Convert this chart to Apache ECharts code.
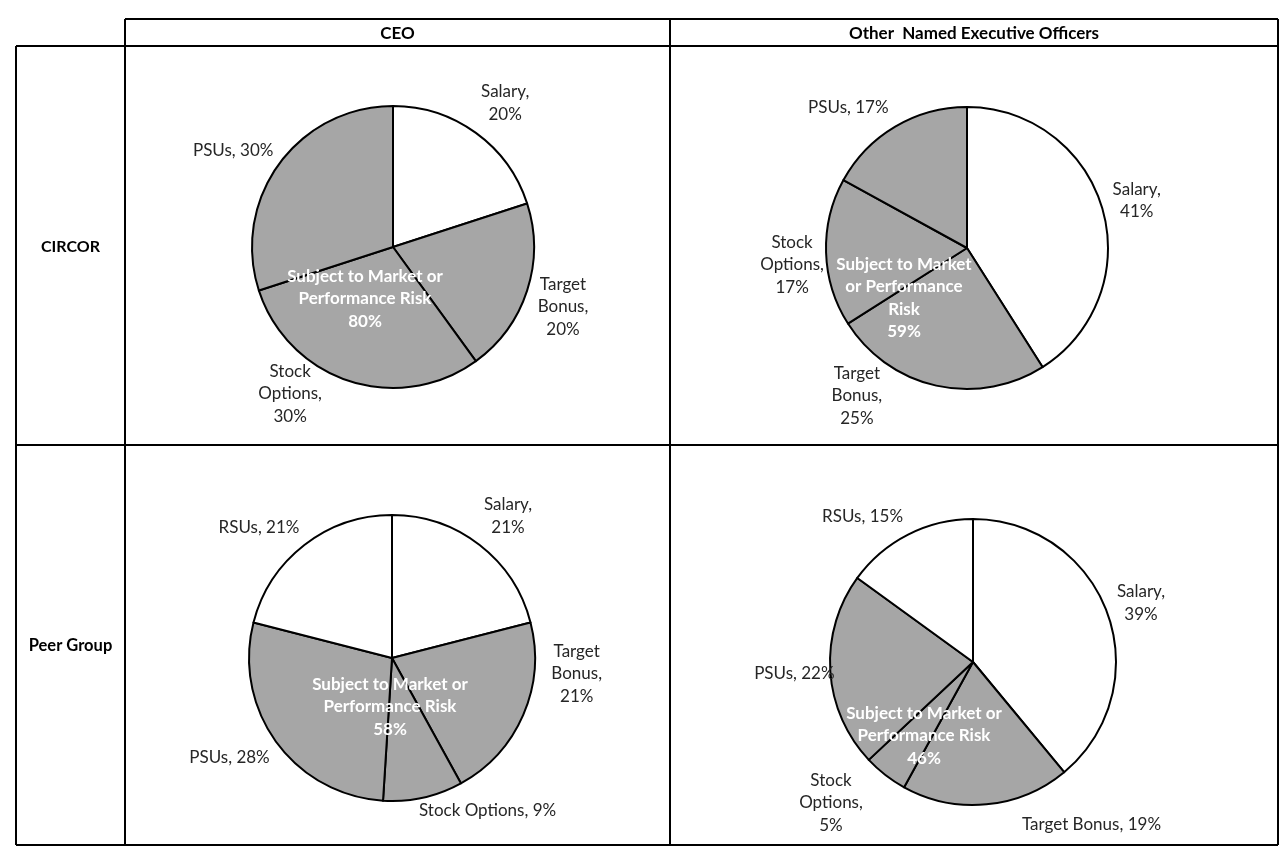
<!DOCTYPE html>
<html>
<head>
<meta charset="utf-8">
<script src="https://cdn.jsdelivr.net/npm/echarts@6/dist/echarts.min.js"></script>
<style>
html,body{margin:0;padding:0;background:#fff;}
#chart{width:1280px;height:850px;}
</style>
</head>
<body>
<div id="chart"></div>
<script>
// ---------- DATA ----------
const columnHeaders = ['CEO', 'Other  Named Executive Officers'];
const rowHeaders = ['CIRCOR', 'Peer Group'];

// CIRCOR – CEO
const circorCeoNames = ['Salary', 'Target Bonus', 'Stock Options', 'PSUs'];
const circorCeoValues = [20, 20, 30, 30];
const circorCeoLabelText = ['Salary,\n', 'Target\nBonus,\n', 'Stock\nOptions,\n', 'PSUs, '];
const circorCeoRiskText = 'Subject to Market or\nPerformance Risk';

// CIRCOR – Other NEOs
const circorNeoNames = ['Salary', 'Target Bonus', 'Stock Options', 'PSUs'];
const circorNeoValues = [41, 25, 17, 17];
const circorNeoLabelText = ['Salary,\n', 'Target\nBonus,\n', 'Stock\nOptions,\n', 'PSUs, '];
const circorNeoRiskText = 'Subject to Market\nor Performance\nRisk';

// Peer Group – CEO
const peerCeoNames = ['Salary', 'Target Bonus', 'Stock Options', 'PSUs', 'RSUs'];
const peerCeoValues = [21, 21, 9, 28, 21];
const peerCeoLabelText = ['Salary,\n', 'Target\nBonus,\n', 'Stock Options, ', 'PSUs, ', 'RSUs, '];
const peerCeoRiskText = 'Subject to Market or\nPerformance Risk';

// Peer Group – Other NEOs
const peerNeoNames = ['Salary', 'Target Bonus', 'Stock Options', 'PSUs', 'RSUs'];
const peerNeoValues = [39, 19, 5, 22, 15];
const peerNeoLabelText = ['Salary,\n', 'Target Bonus, ', 'Stock\nOptions,\n', 'PSUs, ', 'RSUs, '];
const peerNeoRiskText = 'Subject to Market or\nPerformance Risk';

// components not subject to market / performance risk
const fixedComponents = ['Salary', 'RSUs'];

// ---------- LAYOUT / STYLE ----------
const FONT = 'Lato, "Open Sans", sans-serif';
const GRAY = '#a6a6a6';
const panels = [
  {names: circorCeoNames, values: circorCeoValues, labels: circorCeoLabelText, risk: circorCeoRiskText,
   center: [393, 247], r: 141, riskPos: [365, 265],
   nudge: [[4, 5], [-5, 3], [-46, -28], [-11, 12]]},
  {names: circorNeoNames, values: circorNeoValues, labels: circorNeoLabelText, risk: circorNeoRiskText,
   center: [967, 248], r: 141, riskPos: [904, 253],
   nudge: [[-7, 4], [-70, -32], [9, 11], [-25, 18]]},
  {names: peerCeoNames, values: peerCeoValues, labels: peerCeoLabelText, risk: peerCeoRiskText,
   center: [392, 658], r: 143, riskPos: [390, 673],
   nudge: [[2, 5], [14, -58], [55, -29], [-12, -10], [-19, 16]]},
  {names: peerNeoNames, values: peerNeoValues, labels: peerNeoLabelText, risk: peerNeoRiskText,
   center: [973, 662], r: 143, riskPos: [924, 702],
   nudge: [[-7, 4], [101, -23], [-28, -6], [7, 0], [-26, 20]]}
];

const series = [];
const graphics = [];

panels.forEach(function (p) {
  const data = p.names.map(function (n, i) {
    const fixed = fixedComponents.indexOf(n) >= 0;
    return {name: n, value: p.values[i], itemStyle: {color: fixed ? '#ffffff' : GRAY}};
  });
  series.push({
    type: 'pie', center: p.center, radius: [0, p.r], startAngle: 90, clockwise: true,
    data: data, silent: true, label: {show: false}, labelLine: {show: false},
    itemStyle: {borderColor: '#000', borderWidth: 2},
    emphasis: {disabled: true}
  });
  const labelData = p.names.map(function (n, i) {
    return {name: n, value: p.values[i],
      label: {formatter: p.labels[i] + p.values[i] + '%'}};
  });
  series.push({
    type: 'pie', center: p.center, radius: [p.r + 20, p.r + 60], startAngle: 90, clockwise: true,
    data: labelData, silent: true,
    itemStyle: {color: 'rgba(0,0,0,0)', borderWidth: 0},
    label: {show: true, position: 'inside', color: '#262626', fontFamily: FONT, fontSize: 17, lineHeight: 22.5, align: 'center'},
    labelLine: {show: false},
    labelLayout: function (params) {
      const d = p.nudge[params.dataIndex] || [0, 0];
      return {dx: d[0], dy: d[1]};
    },
    emphasis: {disabled: true}
  });
  let riskTotal = 0;
  p.names.forEach(function (n, i) { if (fixedComponents.indexOf(n) < 0) riskTotal += p.values[i]; });
  graphics.push({
    type: 'text', x: p.riskPos[0], y: p.riskPos[1], z: 100, silent: true,
    style: {text: p.risk + '\n' + riskTotal + '%', fill: '#ffffff', font: 'bold 17px ' + FONT,
      textAlign: 'center', textVerticalAlign: 'top', lineHeight: 22.5}
  });
});

// table grid
const L = 16, C1 = 125, C2 = 670, R = 1278, T0 = 19, T1 = 46, T2 = 445, T3 = 845;
const lineStyle = {stroke: '#000', lineWidth: 2};
[[C1, T0, R, T0], [L, T1, R, T1], [L, T2, R, T2], [L, T3, R, T3],
 [L, T1, L, T3], [C1, T0, C1, T3], [C2, T0, C2, T3], [R, T0, R, T3]].forEach(function (s) {
  graphics.push({type: 'line', silent: true, shape: {x1: s[0], y1: s[1], x2: s[2], y2: s[3]}, style: lineStyle});
});
const HFONT = 'bold 17px ' + FONT;
graphics.push({type: 'text', x: (C1 + C2) / 2, y: (T0 + T1) / 2 + 1, style: {text: columnHeaders[0], font: HFONT, fill: '#000', textAlign: 'center', textVerticalAlign: 'middle'}});
graphics.push({type: 'text', x: (C2 + R) / 2, y: (T0 + T1) / 2 + 1, style: {text: columnHeaders[1], font: HFONT, fill: '#000', textAlign: 'center', textVerticalAlign: 'middle'}});
graphics.push({type: 'text', x: (L + C1) / 2, y: (T1 + T2) / 2 + 1, style: {text: rowHeaders[0], font: 'bold 16px ' + FONT, fill: '#000', textAlign: 'center', textVerticalAlign: 'middle'}});
graphics.push({type: 'text', x: (L + C1) / 2, y: (T2 + T3) / 2 + 1, style: {text: rowHeaders[1], font: 'bold 16.5px ' + FONT, fill: '#000', textAlign: 'center', textVerticalAlign: 'middle'}});

const chart = echarts.init(document.getElementById('chart'), null, {renderer: 'canvas'});
chart.setOption({
  animation: false,
  backgroundColor: '#ffffff',
  series: series,
  graphic: {elements: graphics}
});
</script>
</body>
</html>
